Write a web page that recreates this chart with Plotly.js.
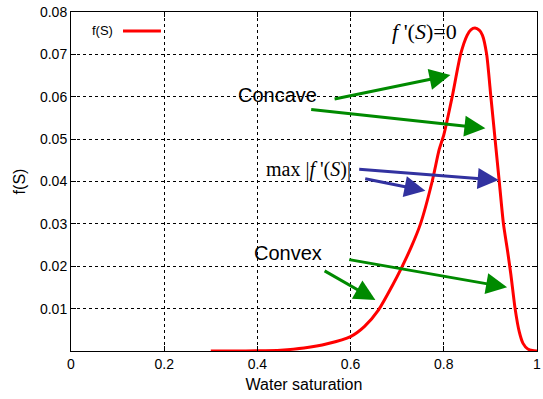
<!DOCTYPE html>
<html>
<head>
<meta charset="utf-8">
<script src="https://cdn.plot.ly/plotly-3.0.1.min.js"></script>
<style>html,body{margin:0;padding:0;background:#fff;}#plot{width:543px;height:399px;}</style>
</head>
<body>
<div id="plot"></div>
<script>
// Water saturation values and f(S)
const saturation = [0.30,0.35,0.40,0.45,0.50,0.55,0.60,0.63,0.66,0.69,0.71,0.73,0.75,0.775,0.79,0.80,0.818,0.836,0.85,0.858,0.867,0.876,0.883,0.892,0.901,0.910,0.919,0.928,0.937,0.944,0.953,0.962,0.970,0.980,0.990,1.0];
const fS = [0,0,0.00005,0.0002,0.0007,0.0017,0.0034,0.0058,0.0097,0.0155,0.0198,0.0245,0.030,0.040,0.0475,0.051,0.060,0.070,0.0745,0.0758,0.0762,0.0757,0.0745,0.070,0.060,0.050,0.040,0.030,0.0235,0.018,0.010,0.0045,0.0018,0.0005,0.0001,0];

const xTicks = [0,0.2,0.4,0.6,0.8,1];
const xTickLabels = ["0","0.2","0.4","0.6","0.8","1"];
const yTicks = [0.01,0.02,0.03,0.04,0.05,0.06,0.07,0.08];
const yTickLabels = ["0.01","0.02","0.03","0.04","0.05","0.06","0.07","0.08"];

// arrow annotations: [tailS, tailF, tipS, tipF]
const arrowTailS = [0.5624,0.5122,0.6152,0.6281,0.5938,0.5410];
const arrowTailF = [0.05938,0.05702,0.04293,0.04074,0.02163,0.01911];
const arrowTipS  = [0.8142,0.8893,0.9178,0.7605,0.9358,0.6532];
const arrowTipF  = [0.06511,0.05254,0.04034,0.03782,0.01503,0.01203];
const arrowColors = ["rgb(0,138,0)","rgb(0,138,0)","rgb(50,50,160)","rgb(50,50,160)","rgb(0,138,0)","rgb(0,138,0)"];

const trace = {
  x: saturation, y: fS, type: 'scatter', mode: 'lines', name: 'f(S)',
  line: {color: 'rgb(255,0,0)', width: 3, shape: 'spline', smoothing: 0.6},
  showlegend: false, hoverinfo: 'skip'
};

const annotations = [];
for (let i = 0; i < arrowTipS.length; i++) {
  annotations.push({
    x: arrowTipS[i], y: arrowTipF[i], xref: 'x', yref: 'y',
    ax: arrowTailS[i], ay: arrowTailF[i], axref: 'x', ayref: 'y',
    text: '', showarrow: true, arrowhead: 2, arrowsize: 1.4, arrowwidth: 3,
    arrowcolor: arrowColors[i], standoff: 0, startstandoff: 0
  });
}
const sansFont = {family: 'Liberation Sans, Arial, sans-serif', size: 20, color: '#000'};
annotations.push({x: 0.355, y: 0.0603, xref: 'x', yref: 'y', text: 'Concave', showarrow: false, font: sansFont, xanchor: 'left', yanchor: 'middle'});
annotations.push({x: 0.3885, y: 0.0232, xref: 'x', yref: 'y', text: 'Convex', showarrow: false, font: sansFont, xanchor: 'left', yanchor: 'middle'});
annotations.push({x: 0.414, y: 0.0428, xref: 'x', yref: 'y', text: 'max |<i>f</i> \'(<i>S</i>)|', showarrow: false, font: {family: 'Liberation Serif, Times New Roman, serif', size: 20, color: '#000'}, xanchor: 'left', yanchor: 'middle'});
annotations.push({x: 0.684, y: 0.0755, xref: 'x', yref: 'y', text: '<i>f</i> \'(<i>S</i>)=0', showarrow: false, font: {family: 'Liberation Serif, Times New Roman, serif', size: 22, color: '#000'}, xanchor: 'left', yanchor: 'middle'});
// legend text
annotations.push({x: 0.094, y: 0.944, xref: 'paper', yref: 'paper', text: 'f(S)', showarrow: false, font: {family: 'Liberation Sans, Arial, sans-serif', size: 13, color: '#000'}, xanchor: 'right', yanchor: 'middle'});

const layout = {
  width: 543, height: 399,
  margin: {l: 71, r: 6, t: 12, b: 48},
  paper_bgcolor: '#fff', plot_bgcolor: '#fff',
  font: {family: 'Liberation Sans, Arial, sans-serif', size: 14, color: '#000'},
  showlegend: false,
  xaxis: {
    range: [0, 1], tickvals: xTicks, ticktext: xTickLabels,
    showgrid: true, gridcolor: '#000', griddash: 'dot', gridwidth: 1,
    zeroline: false, showline: true, linecolor: '#000', linewidth: 1, mirror: 'ticks',
    ticks: 'inside', ticklen: 5, tickcolor: '#000',
    title: {text: 'Water saturation', font: {size: 16}, standoff: 8},
    tickfont: {size: 14}
  },
  yaxis: {
    range: [0, 0.08], tickvals: yTicks, ticktext: yTickLabels,
    showgrid: true, gridcolor: '#000', griddash: 'dot', gridwidth: 1,
    zeroline: false, showline: true, linecolor: '#000', linewidth: 1, mirror: 'ticks',
    ticks: 'inside', ticklen: 5, tickcolor: '#000',
    title: {text: 'f(S)', font: {size: 16}, standoff: 10},
    tickfont: {size: 14}
  },
  shapes: [
    {type: 'line', xref: 'paper', yref: 'paper', x0: 0.1116, x1: 0.193, y0: 0.944, y1: 0.944, line: {color: 'rgb(255,0,0)', width: 3}}
  ],
  annotations: annotations
};

Plotly.newPlot('plot', [trace], layout, {displayModeBar: false, staticPlot: true});
</script>
</body>
</html>
